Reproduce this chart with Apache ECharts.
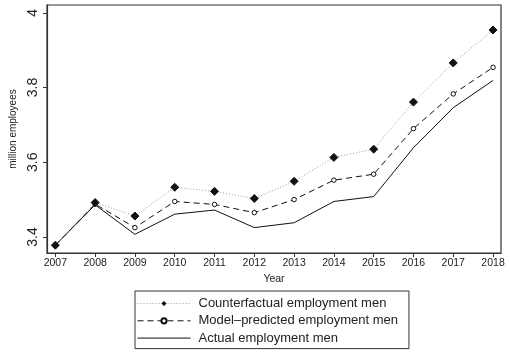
<!DOCTYPE html>
<html>
<head>
<meta charset="utf-8">
<script src="https://cdn.jsdelivr.net/npm/echarts@6/dist/echarts.min.js"></script>
<style>
  html, body { margin: 0; padding: 0; background: #fff; }
  #chart { width: 510px; height: 352px; }
</style>
</head>
<body>
<div id="chart"></div>
<script>
// Employment of men, 2007-2018 (million employees)
const years = [2007, 2008, 2009, 2010, 2011, 2012, 2013, 2014, 2015, 2016, 2017, 2018];
const counterfactual = [3.378, 3.492, 3.456, 3.533, 3.522, 3.503, 3.549, 3.613, 3.635, 3.761, 3.866, 3.954];
const modelPredicted = [3.378, 3.488, 3.425, 3.495, 3.487, 3.465, 3.500, 3.552, 3.568, 3.690, 3.783, 3.854];
const actual = [3.378, 3.486, 3.407, 3.461, 3.472, 3.425, 3.438, 3.495, 3.508, 3.639, 3.746, 3.819];
const yTicks = [3.4, 3.6, 3.8, 4];

const seriesNames = [
  'Counterfactual employment men',
  'Model\u2013predicted employment men',
  'Actual employment men'
];

const pairs = vals => years.map((y, i) => [y, vals[i]]);
const FONT = 'Liberation Sans, Arial, sans-serif';
const INK = '#222';

const chart = echarts.init(document.getElementById('chart'), null, { renderer: 'canvas' });
chart.setOption({
  animation: false,
  backgroundColor: '#fff',
  textStyle: { fontFamily: FONT, color: INK },
  grid: {
    left: 44, top: 5, right: 9, bottom: 99,
    show: true, borderColor: '#333', borderWidth: 1.2, backgroundColor: 'transparent'
  },
  xAxis: {
    type: 'value',
    min: 2006.79, max: 2018.2,
    name: 'Year', nameLocation: 'middle', nameGap: 17,
    nameTextStyle: { fontFamily: FONT, fontSize: 10.5, color: INK },
    axisLine: { show: true, lineStyle: { color: '#333', width: 1.2 } },
    axisTick: { show: true, length: 4, customValues: years, lineStyle: { color: '#333' } },
    axisLabel: {
      customValues: years, margin: 5, fontSize: 10.5, color: INK, fontFamily: FONT,
      formatter: v => String(v)
    },
    splitLine: { show: false }
  },
  yAxis: {
    type: 'value',
    min: 3.357, max: 4.021,
    name: 'million employees', nameLocation: 'middle', nameGap: 29, nameRotate: 90,
    nameTextStyle: { fontFamily: FONT, fontSize: 10, color: INK },
    axisLine: { show: true, lineStyle: { color: '#333', width: 1.2 } },
    axisTick: { show: true, length: 4, customValues: yTicks, lineStyle: { color: '#333' } },
    axisLabel: {
      customValues: yTicks, rotate: 90, margin: 7, fontSize: 14, color: INK, fontFamily: FONT,
      formatter: v => String(v)
    },
    splitLine: { show: false }
  },
  legend: {
    orient: 'vertical',
    left: 135, top: 291,
    borderColor: '#333', borderWidth: 1,
    padding: [6, 11, 4, 2],
    itemGap: 4.3,
    itemWidth: 53, itemHeight: 6.5,
    lineStyle: { width: 1 },
    textStyle: { fontFamily: FONT, fontSize: 13, color: INK, padding: [0, 0, 0, 3] },
    data: [
      { name: seriesNames[0] },
      { name: seriesNames[1] },
      { name: seriesNames[2], itemStyle: { color: 'rgba(0,0,0,0)', borderColor: 'rgba(0,0,0,0)', opacity: 0 } }
    ]
  },
  series: [
    {
      name: seriesNames[0], type: 'line', data: pairs(counterfactual),
      symbol: 'diamond', symbolSize: 8,
      itemStyle: { color: '#111', borderColor: '#111' },
      lineStyle: { color: '#9a9a9a', width: 1, type: [1, 2] },
      z: 3
    },
    {
      name: seriesNames[1], type: 'line', data: pairs(modelPredicted),
      symbol: 'circle', symbolSize: 4.5, showAllSymbol: true,
      itemStyle: { color: '#fff', borderColor: '#111', borderWidth: 1 },
      lineStyle: { color: '#111', width: 1, type: [6, 4] },
      z: 2
    },
    {
      name: seriesNames[2], type: 'line', data: pairs(actual),
      symbol: 'none',
      itemStyle: { color: '#111' },
      lineStyle: { color: '#111', width: 1 },
      z: 1
    }
  ]
});
</script>
</body>
</html>
